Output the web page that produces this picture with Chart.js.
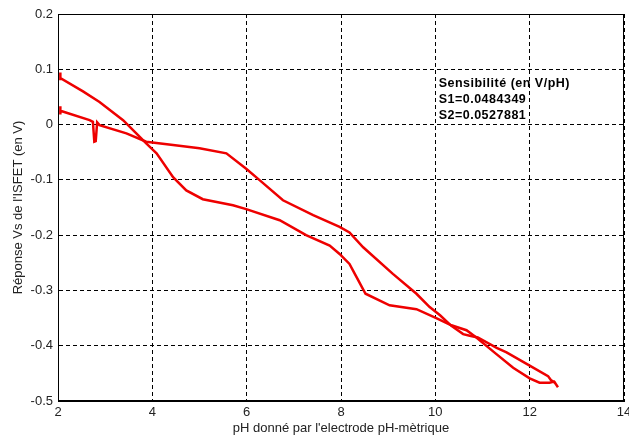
<!DOCTYPE html>
<html>
<head>
<meta charset="utf-8">
<script src="https://cdn.jsdelivr.net/npm/chart.js@4/dist/chart.umd.min.js"></script>
<style>
  html, body { margin: 0; padding: 0; background: #fff; }
  canvas { display: block; }
</style>
</head>
<body>
<canvas id="isfet" width="629" height="437"></canvas>
<script>
// Courbe 1 (part de ~0.09 V)
const phA = [2.05, 2.05, 2.05, 2.53, 2.88, 3.38, 3.66, 3.87, 4.09, 4.44, 4.72, 5.07, 5.71, 5.99,
  6.70, 7.26, 7.76, 7.97, 8.18, 8.33, 8.52, 9.03, 9.60, 10.02, 10.34, 10.66, 10.87, 11.25,
  11.65, 12.00, 12.21, 12.42, 12.52, 12.60];
const vA = [0.094, 0.080, 0.084, 0.060, 0.041, 0.008, -0.016, -0.034, -0.052, -0.095, -0.119,
  -0.135, -0.146, -0.153, -0.173, -0.200, -0.219, -0.234, -0.252, -0.276, -0.306, -0.327,
  -0.334, -0.350, -0.363, -0.372, -0.385, -0.412, -0.440, -0.459, -0.467, -0.467, -0.465,
  -0.475];

// Courbe 2 (part de ~0.025 V, avec le pic vers pH 2.8)
const phB = [2.05, 2.05, 2.05, 2.67, 2.74, 2.77, 2.80, 2.83, 2.88, 3.45, 3.87, 4.44, 5.00, 5.57,
  5.99, 6.28, 6.77, 7.41, 7.97, 8.18, 8.47, 9.10, 9.60, 9.88, 10.10, 10.34, 10.59, 10.73,
  10.90, 11.30, 11.51, 12.00, 12.39, 12.45, 12.55];
const vB = [0.033, 0.018, 0.025, 0.008, 0.005, -0.031, -0.030, 0.004, -0.001, -0.016, -0.031,
  -0.037, -0.043, -0.052, -0.080, -0.101, -0.137, -0.164, -0.185, -0.195, -0.222, -0.270,
  -0.306, -0.330, -0.345, -0.364, -0.379, -0.382, -0.385, -0.404, -0.412, -0.436, -0.455,
  -0.462, -0.468];

const xTicks = [2, 4, 6, 8, 10, 12, 14];
const yTicks = [-0.5, -0.4, -0.3, -0.2, -0.1, 0, 0.1, 0.2];
const xTitle = "pH donné par l'electrode pH-mètrique";
const yTitle = "Réponse Vs de l'ISFET (en V)";
const noteLines = ["Sensibilité (en V/pH)", "S1=0.0484349", "S2=0.0527881"];
const notePos = [10.07, 0.0748];

const toPoints = (xs, ys) => xs.map((x, i) => ({ x: x, y: ys[i] }));

// cadre noir + texte de sensibilité
const framePlugin = {
  id: 'frame',
  afterDraw(chart) {
    const { ctx, chartArea: a, scales } = chart;
    ctx.save();
    ctx.strokeStyle = '#000';
    ctx.lineWidth = 1;
    ctx.strokeRect(a.left + 0.5, a.top + 0.5, a.right - a.left - 1, a.bottom - a.top - 1);
    const x = scales.x.getPixelForValue(notePos[0]);
    const y = scales.y.getPixelForValue(notePos[1]);
    ctx.fillStyle = '#000';
    ctx.font = 'bold 12.5px "Liberation Sans", Arial, sans-serif';
    ctx.letterSpacing = '0.5px';
    ctx.textBaseline = 'middle';
    noteLines.forEach((t, i) => ctx.fillText(t, x, y + i * 16));
    ctx.restore();
  }
};

const tickFont = { family: '"Liberation Sans", Arial, sans-serif', size: 13 };

new Chart(document.getElementById('isfet'), {
  type: 'line',
  data: {
    datasets: [
      { label: 'S1', data: toPoints(phA, vA), borderColor: '#ee0000', borderWidth: 2.5,
        pointRadius: 0, tension: 0, fill: false },
      { label: 'S2', data: toPoints(phB, vB), borderColor: '#ee0000', borderWidth: 2.5,
        pointRadius: 0, tension: 0, fill: false }
    ]
  },
  options: {
    responsive: false,
    animation: false,
    devicePixelRatio: 1,
    layout: { padding: { top: 14, right: 5, left: 0, bottom: 0 } },
    plugins: { legend: { display: false }, tooltip: { enabled: false } },
    scales: {
      x: {
        type: 'linear', min: 2, max: 14,
        afterBuildTicks: s => { s.ticks = xTicks.map(v => ({ value: v })); },
        afterFit: s => { s.height = 36; s.paddingLeft = 0; s.paddingRight = 0; },
        ticks: { font: tickFont, color: '#222', padding: 4, maxRotation: 0, autoSkip: false },
        grid: { color: '#000', lineWidth: 1, drawTicks: false },
        border: { color: '#000', width: 1, dash: [4, 3] },
        title: { display: true, text: xTitle, font: tickFont, color: '#222',
          padding: { top: 0, bottom: 1 } }
      },
      y: {
        type: 'linear', min: -0.5, max: 0.2,
        afterBuildTicks: s => { s.ticks = yTicks.map(v => ({ value: v })); },
        afterFit: s => { s.width = 58; s.paddingTop = 0; s.paddingBottom = 0; },
        ticks: { font: tickFont, color: '#222', padding: 5, callback: v => String(+v.toFixed(1)) },
        grid: { color: '#000', lineWidth: 1, drawTicks: false },
        border: { color: '#000', width: 1, dash: [4, 3] },
        title: { display: true, text: yTitle, font: tickFont, color: '#222',
          padding: { top: 11, bottom: 0 } }
      }
    }
  },
  plugins: [framePlugin]
});
</script>
</body>
</html>
